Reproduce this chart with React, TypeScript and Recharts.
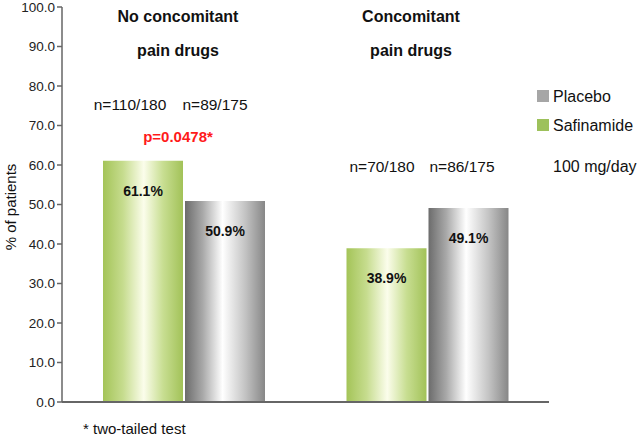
import React from 'react';
import { BarChart, Bar, XAxis, YAxis, LabelList } from 'recharts';

const groups = ['No concomitant pain drugs', 'Concomitant pain drugs'];
const safinamide = [61.1, 38.9];
const placebo = [50.9, 49.1];
const yTicks = [0, 10, 20, 30, 40, 50, 60, 70, 80, 90, 100];
const groupEdges = [0, 1, 2];

const data = groups.map((g, i) => ({ group: g, safinamide: safinamide[i], placebo: placebo[i] }));

const FONT = '"Liberation Sans", Arial, sans-serif';
const AXIS = '#666';

// text placed over the chart, centred on (x, y)
const Note = ({ x, y, size = 15.5, bold = false, color = '#111', children }: any) => (
  <div
    style={{
      position: 'absolute',
      left: x,
      top: y,
      transform: 'translate(-50%, -50%)',
      fontSize: size,
      fontWeight: bold ? 700 : 400,
      color,
      lineHeight: 1,
      whiteSpace: 'nowrap',
    }}
  >
    {children}
  </div>
);

const LeftNote = ({ x, y, size = 16, children }: any) => (
  <div
    style={{
      position: 'absolute',
      left: x,
      top: y,
      transform: 'translateY(-50%)',
      fontSize: size,
      color: '#111',
      lineHeight: 1,
      whiteSpace: 'nowrap',
    }}
  >
    {children}
  </div>
);

const Swatch = ({ x, y, color }: any) => (
  <div style={{ position: 'absolute', left: x, top: y, width: 12, height: 12, background: color }} />
);

export default function App() {
  return (
    <div style={{ position: 'absolute', left: 0, top: 0, width: 638, height: 439, background: '#fff', fontFamily: FONT }}>
      <BarChart
        width={638}
        height={439}
        data={data}
        margin={{ top: 7, right: 89, left: 8, bottom: 35 }}
        barSize={80}
        barGap={2}
      >
        <defs>
          <linearGradient id="greenBar" x1="0" y1="0" x2="1" y2="0">
            <stop offset="0%" stopColor="#a4c458" />
            <stop offset="25%" stopColor="#c6dc8e" />
            <stop offset="51%" stopColor="#fbfdeb" />
            <stop offset="75%" stopColor="#c8de92" />
            <stop offset="100%" stopColor="#a2c258" />
          </linearGradient>
          <linearGradient id="grayBar" x1="0" y1="0" x2="1" y2="0">
            <stop offset="0%" stopColor="#6c6c6c" />
            <stop offset="22%" stopColor="#a8a8a8" />
            <stop offset="47%" stopColor="#ffffff" />
            <stop offset="75%" stopColor="#c4c4c4" />
            <stop offset="100%" stopColor="#878787" />
          </linearGradient>
        </defs>
        <XAxis
          dataKey="group"
          height={1}
          tick={false}
          tickLine={false}
          axisLine={{ stroke: AXIS, strokeWidth: 2 }}
        />
        <XAxis
          xAxisId="edges"
          type="number"
          domain={[0, 2]}
          ticks={groupEdges}
          height={1}
          tick={false}
          axisLine={false}
          tickSize={6}
          tickLine={{ stroke: AXIS, strokeWidth: 1.5 }}
        />
        <YAxis
          width={54}
          domain={[0, 100]}
          ticks={yTicks}
          interval={0}
          tickFormatter={(v: number) => v.toFixed(1)}
          tick={{ fontSize: 13.5, fill: '#222', fontFamily: FONT }}
          tickSize={5}
          tickLine={{ stroke: AXIS, strokeWidth: 1.5 }}
          axisLine={{ stroke: AXIS, strokeWidth: 1.5 }}
        />
        <Bar dataKey="safinamide" fill="url(#greenBar)" isAnimationActive={false}>
          <LabelList
            dataKey="safinamide"
            position="insideTop"
            offset={25}
            formatter={(v: number) => `${v}%`}
            style={{ fontSize: 14, fontWeight: 700, fill: '#111', fontFamily: FONT }}
          />
        </Bar>
        <Bar dataKey="placebo" fill="url(#grayBar)" isAnimationActive={false}>
          <LabelList
            dataKey="placebo"
            position="insideTop"
            offset={25}
            formatter={(v: number) => `${v}%`}
            style={{ fontSize: 14, fontWeight: 700, fill: '#111', fontFamily: FONT }}
          />
        </Bar>
      </BarChart>

      <div
        style={{
          position: 'absolute',
          left: 10,
          top: 207,
          transform: 'translate(-50%, -50%) rotate(-90deg)',
          fontSize: 15,
          whiteSpace: 'nowrap',
          lineHeight: 1,
          color: '#111',
        }}
      >
        % of patients
      </div>

      <Note x={178} y={17} size={16} bold>No concomitant</Note>
      <Note x={178} y={51} size={16} bold>pain drugs</Note>
      <Note x={130} y={105}>n=110/180</Note>
      <Note x={215} y={105}>n=89/175</Note>
      <Note x={178} y={136} size={15} bold color="#ff1a1a">p=0.0478*</Note>

      <Note x={411} y={17} size={16} bold>Concomitant</Note>
      <Note x={411} y={51} size={16} bold>pain drugs</Note>
      <Note x={382} y={167}>n=70/180</Note>
      <Note x={462} y={167}>n=86/175</Note>

      <Swatch x={537} y={90} color="#a6a6a6" />
      <LeftNote x={553} y={97}>Placebo</LeftNote>
      <Swatch x={537} y={119} color="#9dc15b" />
      <LeftNote x={553} y={126}>Safinamide</LeftNote>
      <LeftNote x={553} y={167}>100 mg/day</LeftNote>

      <LeftNote x={83} y={428} size={15}>* two-tailed test</LeftNote>
    </div>
  );
}
